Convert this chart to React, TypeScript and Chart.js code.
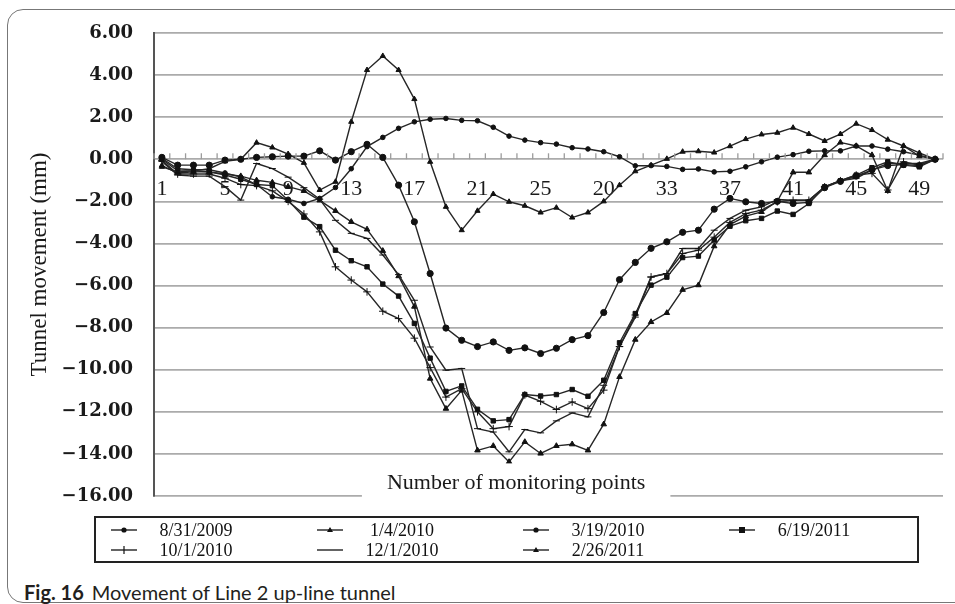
import React, { useEffect, useRef } from "react";
import { Chart, registerables } from "chart.js";

Chart.register(...registerables);

const points: number[] = Array.from({ length: 50 }, (_, i) => i + 1);
const xTickLabels: string[] = ["1", "5", "9", "13", "17", "21", "25", "20", "33", "37", "41", "45", "49"];

const s0831_2009 = [0.05, -0.45, -0.5, -0.5, -0.65, -0.85, -1.2, -1.78, -1.9, -2.1, -1.86, -1.34, -0.45, 0.6, 1.04, 1.47, 1.78, 1.9, 1.94, 1.85, 1.83, 1.52, 1.1, 0.91, 0.79, 0.72, 0.55, 0.49, 0.36, 0.12, -0.31, -0.3, -0.34, -0.48, -0.46, -0.6, -0.57, -0.36, -0.12, 0.1, 0.22, 0.38, 0.4, 0.4, 0.63, 0.63, 0.48, 0.36, 0.2, 0];
const s0104_2010 = [-0.36, -0.6, -0.55, -0.45, -0.1, 0.0, 0.79, 0.56, 0.25, -0.17, -1.46, -1.07, 1.78, 4.24, 4.91, 4.24, 2.86, -0.12, -2.26, -3.37, -2.45, -1.65, -2.02, -2.21, -2.53, -2.3, -2.77, -2.53, -2.0, -1.23, -0.57, -0.28, 0.02, 0.36, 0.38, 0.32, 0.62, 0.96, 1.18, 1.26, 1.5, 1.2, 0.87, 1.2, 1.69, 1.39, 0.93, 0.63, 0.3, 0];
const s0319_2010 = [0.09, -0.28, -0.28, -0.28, -0.04, 0.0, 0.09, 0.12, 0.15, 0.15, 0.4, -0.04, 0.36, 0.71, 0.09, -1.23, -2.97, -5.43, -8.02, -8.6, -8.9, -8.68, -9.08, -8.96, -9.23, -8.98, -8.57, -8.38, -7.28, -5.72, -4.9, -4.23, -3.92, -3.47, -3.37, -2.37, -1.86, -2.02, -2.1, -2.0, -2.1, -2.05, -1.35, -1.05, -0.8, -0.5, -0.3, -0.25, -0.3, 0];
const s0619_2011 = [0.0, -0.55, -0.55, -0.6, -0.75, -0.95, -1.2, -1.25, -1.95, -2.75, -3.2, -4.32, -4.82, -5.11, -5.93, -6.5, -7.8, -9.45, -11.03, -10.77, -11.88, -12.43, -12.37, -11.18, -11.25, -11.18, -10.94, -11.26, -10.5, -8.72, -7.33, -5.98, -5.6, -4.67, -4.6, -3.84, -3.18, -2.92, -2.81, -2.46, -2.62, -2.1, -1.31, -1.02, -0.75, -0.4, -0.12, -0.28, -0.36, 0];
const s1001_2010 = [-0.05, -0.7, -0.7, -0.7, -0.9, -1.2, -1.25, -1.5, -2.0, -2.6, -3.45, -5.11, -5.74, -6.3, -7.22, -7.57, -8.5, -9.9, -11.3, -10.9, -12.0, -12.8, -12.7, -11.2, -11.5, -11.89, -11.53, -11.85, -10.97, -8.9, -7.4, -5.59, -5.43, -4.48, -4.32, -3.7, -3.0, -2.58, -2.42, -2.02, -1.95, -1.95, -1.31, -1.02, -0.75, -0.67, -1.46, -0.12, -0.28, 0];
const s1201_2010 = [-0.1, -0.75, -0.8, -0.8, -1.3, -1.94, -0.2, -0.44, -0.85, -1.35, -1.9, -2.9, -3.52, -3.76, -4.55, -5.48, -6.7, -8.92, -10.02, -9.94, -12.8, -12.96, -13.9, -12.84, -13.0, -12.43, -12.05, -12.24, -10.74, -8.9, -7.5, -5.6, -5.43, -4.24, -4.24, -3.37, -2.81, -2.42, -2.26, -1.91, -1.95, -1.95, -1.31, -1.02, -0.9, -0.5, -0.2, -0.2, -0.2, 0];
const s0226_2011 = [-0.3, -0.65, -0.6, -0.6, -0.7, -0.8, -1.0, -1.1, -1.3, -1.5, -1.95, -2.45, -2.97, -3.33, -4.35, -5.55, -7.0, -10.42, -11.85, -10.98, -13.83, -13.62, -14.38, -13.43, -13.98, -13.62, -13.54, -13.83, -12.59, -10.34, -8.57, -7.73, -7.3, -6.2, -5.98, -4.13, -3.1, -2.7, -2.5, -2.0, -0.62, -0.62, 0.2, 0.8, 0.63, 0.2, -1.5, 0.63, 0.15, 0];

const seriesNames = ["8/31/2009", "1/4/2010", "3/19/2010", "6/19/2011", "10/1/2010", "12/1/2010", "2/26/2011"];
const seriesValues = [s0831_2009, s0104_2010, s0319_2010, s0619_2011, s1001_2010, s1201_2010, s0226_2011];
const seriesMarkers = ["circle", "triangle", "circle", "rect", "cross", "line", "triangle"];
const markerSizes = [2.3, 3, 3.1, 3.1, 3.8, 3.5, 3.2];

const LINE = "#262626";
const SERIF = "'Liberation Serif', 'Times New Roman', serif";

function fmtY(v: number): string {
  return (v < 0 ? "\u2212" : "") + Math.abs(v).toFixed(2);
}

const overlayPlugin = {
  id: "overlay",
  afterDraw(chart: any) {
    const { ctx, chartArea, scales } = chart;
    const xs = scales.x;
    const ys = scales.y;
    const y0 = ys.getPixelForValue(0);
    const step = xs.getPixelForValue(1) - xs.getPixelForValue(0);
    ctx.save();
    ctx.strokeStyle = "#9c9c9c";
    ctx.lineWidth = 1.3;
    for (let i = 0; i <= points.length; i++) {
      const px = xs.getPixelForValue(0) + (i - 0.5) * step;
      ctx.beginPath();
      ctx.moveTo(px, y0 - 6);
      ctx.lineTo(px, y0);
      ctx.stroke();
    }
    const title = "Number of monitoring points";
    ctx.font = `22px ${SERIF}`;
    const tw = ctx.measureText(title).width;
    const cx = chartArea.left + chartArea.width * 0.459;
    const cy = ys.getPixelForValue(-15.4);
    const top = ys.getPixelForValue(-14.45);
    ctx.fillStyle = "#ffffff";
    ctx.fillRect(cx - tw / 2 - 25, top, tw + 50, chartArea.bottom + 3 - top);
    ctx.fillStyle = "#1a1a1a";
    ctx.textAlign = "center";
    ctx.textBaseline = "middle";
    ctx.fillText(title, cx, cy);
    ctx.restore();
  },
};

function Marker({ kind }: { kind: string }) {
  const c = 13;
  let m: React.ReactNode = null;
  if (kind === "circle") m = <circle cx={c} cy={5} r={2.6} fill="#111" />;
  if (kind === "triangle") m = <polygon points={`${c - 3},7 ${c + 3},7 ${c},2`} fill="#111" />;
  if (kind === "rect") m = <rect x={c - 3} y={2} width={6} height={6} fill="#111" />;
  if (kind === "cross") m = <line x1={c} y1={1} x2={c} y2={9} stroke="#111" strokeWidth={1.2} />;
  return (
    <svg width={26} height={10} style={{ display: "block" }}>
      <line x1={0} y1={5} x2={26} y2={5} stroke="#222" strokeWidth={1.4} />
      {m}
    </svg>
  );
}

export default function App() {
  const ref = useRef<HTMLCanvasElement | null>(null);

  useEffect(() => {
    if (!ref.current) return;
    const datasets = seriesNames.map((name, i) => ({
      label: name,
      data: seriesValues[i],
      borderColor: LINE,
      backgroundColor: "#111",
      borderWidth: 1.4,
      pointStyle: seriesMarkers[i] as any,
      pointRadius: markerSizes[i],
      pointBackgroundColor: "#111",
      pointBorderColor: "#111",
      pointBorderWidth: 1,
      tension: 0,
      fill: false,
    }));
    const chart = new Chart(ref.current, {
      type: "line",
      data: { labels: points.map(String), datasets },
      options: {
        animation: false,
        responsive: false,
        maintainAspectRatio: false,
        layout: { padding: { left: 20, top: 33, right: 12, bottom: 34 } },
        plugins: { legend: { display: false }, tooltip: { enabled: false } },
        scales: {
          x: {
            type: "category",
            position: { y: 0 } as any,
            offset: true,
            grid: { display: false, drawTicks: false, offset: true },
            border: { display: false },
            ticks: {
              autoSkip: false,
              maxRotation: 0,
              minRotation: 0,
              padding: 17,
              color: "#1a1a1a",
              font: { family: SERIF, size: 22 },
              callback: (_v: any, i: number) => (i % 4 === 0 ? xTickLabels[i / 4] : ""),
            },
          },
          y: {
            min: -16,
            max: 6,
            afterFit: (s: any) => {
              s.width = 134;
            },
            grid: { color: "#ababab", lineWidth: 1.7, drawTicks: false },
            border: { display: true, color: "#555", width: 2 },
            ticks: {
              stepSize: 1,
              padding: 21,
              color: "#1a1a1a",
              font: { family: "'DejaVu Serif', serif", size: 18, weight: "bold" },
              callback: (v: any) => (Number(v) % 2 === 0 ? fmtY(Number(v)) : ""),
            },
            title: {
              display: true,
              text: "Tunnel movement (mm)",
              color: "#1a1a1a",
              font: { family: SERIF, size: 23 },
              padding: { top: 6, bottom: 0 },
            },
          },
        },
      },
      plugins: [overlayPlugin],
    });
    return () => chart.destroy();
  }, []);

  return (
    <div style={{ position: "fixed", left: 0, top: 0, width: 955, height: 604, overflow: "hidden", background: "#fff" }}>
      <div
        style={{
          position: "absolute",
          left: 7,
          top: 9,
          width: 1100,
          height: 594,
          border: "1.5px solid #777",
          borderRadius: 16,
          boxSizing: "border-box",
        }}
      />
      <canvas ref={ref} width={955} height={530} style={{ position: "absolute", left: 0, top: 0, width: 955, height: 530 }} />
      <div
        style={{
          position: "absolute",
          left: 94,
          top: 516,
          width: 825,
          height: 47,
          border: "2px solid #222",
          boxSizing: "border-box",
          fontFamily: SERIF,
          fontSize: 18,
          color: "#111",
          background: "transparent",
        }}
      >
        {seriesNames.map((name, i) => {
          const col = i % 4;
          const row = Math.floor(i / 4);
          const mx = 28 + col * 206;
          const my = 12 + row * 19.5;
          return (
            <React.Fragment key={name}>
              <div style={{ position: "absolute", left: mx - 13, top: my - 5 }}>
                <Marker kind={seriesMarkers[i]} />
              </div>
              <div
                style={{
                  position: "absolute",
                  left: mx + 72 - 60,
                  width: 120,
                  top: my - 11,
                  height: 22,
                  lineHeight: "22px",
                  textAlign: "center",
                  whiteSpace: "nowrap",
                }}
              >
                {name}
              </div>
            </React.Fragment>
          );
        })}
      </div>
      <div
        style={{
          position: "absolute",
          left: 24,
          top: 580,
          fontFamily: "Lato, 'Open Sans', sans-serif",
          fontSize: 20,
          color: "#231f20",
          whiteSpace: "nowrap",
          lineHeight: "24px",
        }}
      >
        <span style={{ fontWeight: "bold" }}>Fig. 16</span>
        <span style={{ marginLeft: 8 }}>Movement of Line 2 up-line tunnel</span>
      </div>
    </div>
  );
}
